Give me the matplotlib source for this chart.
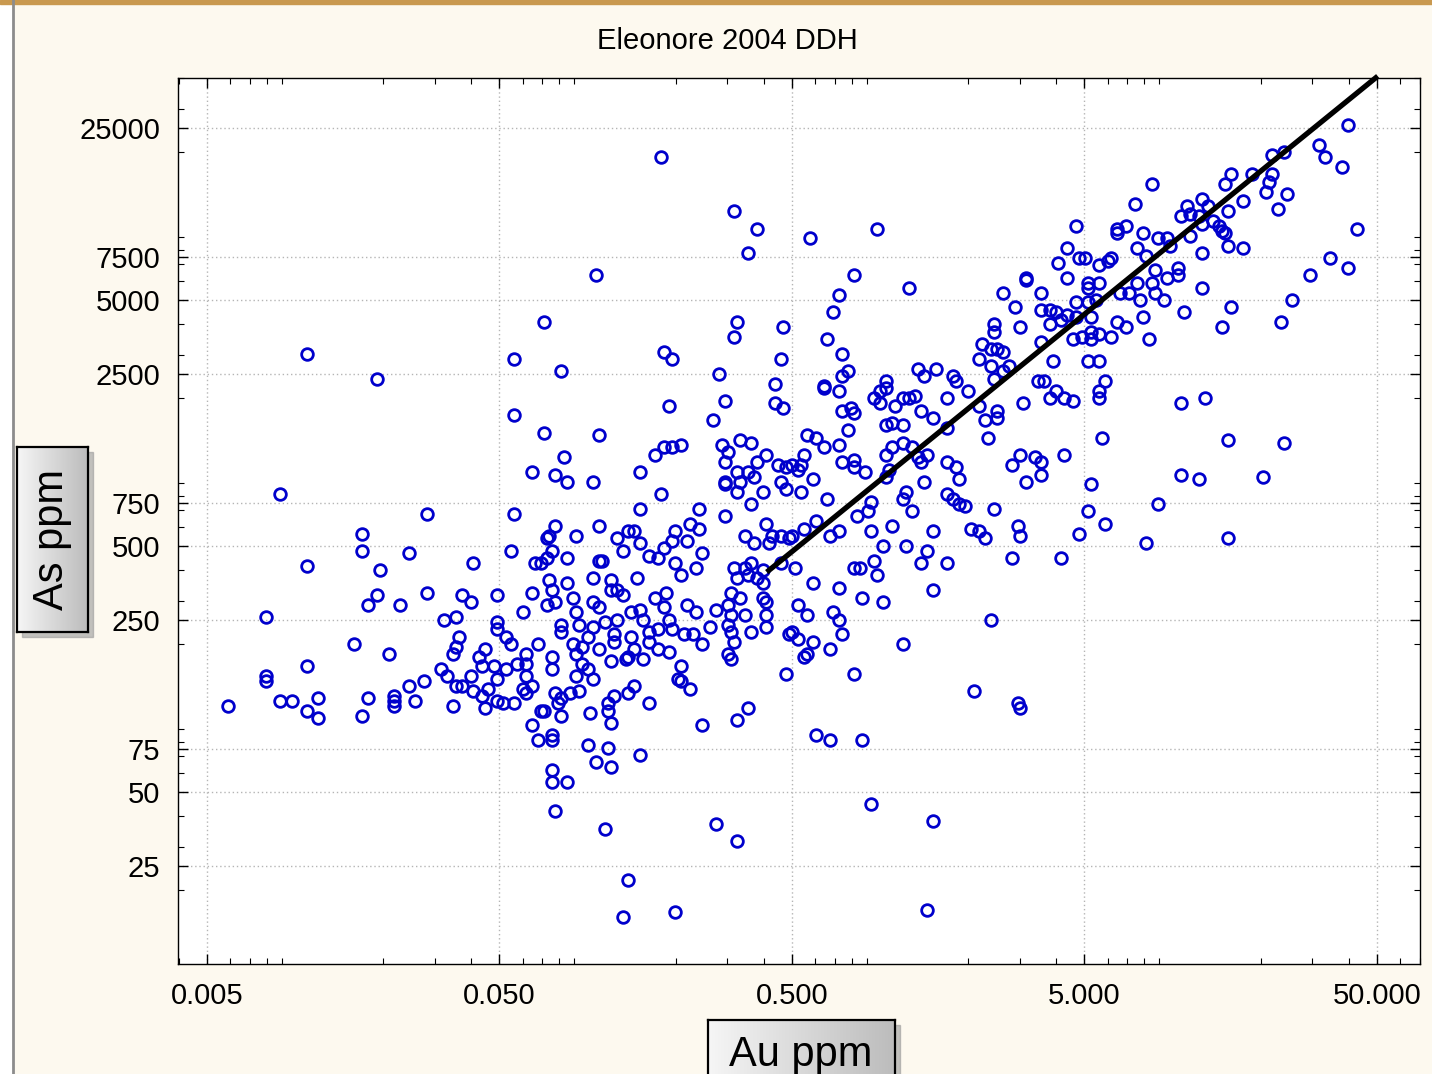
import matplotlib.pyplot as plt
import numpy as np
from matplotlib.colors import LinearSegmentedColormap
from matplotlib.lines import Line2D
from matplotlib.patches import Rectangle
from matplotlib.ticker import FixedLocator, FixedFormatter, LogLocator, NullFormatter

plt.rcParams['font.family'] = ['Liberation Sans', 'DejaVu Sans']

# drill core samples as log10(ppm)
log_au = [
    -1.96, -1.72, -2.05, -1.55, -1.77, -1.77, -1.61, -1.96, -1.71, -1.39,
    -1.72, -1.75, -1.64, -1.55, -1.43, -1.40, -1.45, -1.49, -2.10, -1.31,
    -1.31, -1.31, -1.44, -1.80, -1.68, -1.96, -2.10, -2.10, -2.23, -2.05,
    -2.01, -1.96, -1.92, -1.92, -1.77, -1.75, -1.66, -1.66, -1.66, -1.61,
    -1.59, -1.56, -1.50, -1.48, -1.46, -1.45, -1.45, -1.46, -1.43, -1.40,
    -1.39, -1.37, -1.35, -1.36, -1.34, -1.36, -1.35, -1.32, -1.31, -1.31,
    -0.75, -0.50, -0.42, -0.45, -0.97, -1.15, -0.49, -0.50, -0.33, -1.25,
    -1.09, -0.74, -0.71, -0.55, -0.34, -0.36, -0.72, -0.53, -0.36, -0.33,
    -1.25, -1.15, -0.96, -0.57, -1.08, -1.19, -1.11, -1.07, -0.98, -0.82,
    -0.77, -0.74, -0.71, -0.68, -0.75, -0.54, -0.52, -0.53, -0.48, -0.44,
    -0.49, -0.45, -0.42, -0.39, -0.35, -0.32, -0.53, -0.48, -0.53, -0.49,
    -0.43, -0.40, -0.34, -0.32, -0.44, -0.82, -0.62, -1.25, -1.11, -1.13,
    -1.14, -0.96, -1.04, -0.90, -0.86, -0.84, -0.88, -0.82, -0.70, -0.71,
    -0.66, -0.65, -0.62, -0.53, -0.46, -0.43, -0.39, -0.38, -0.37, -0.34,
    -0.31, -1.26, -1.12, -1.14, -1.16, -1.18, -1.07, -0.96, -0.95, -0.79,
    -0.76, -0.74, -0.70, -0.61, -0.63, -0.50, -0.46, -0.44, -0.40, -0.34,
    -0.49, -0.45, -0.42, -0.40, -0.98, -0.83, -0.68, -1.13, -1.07, -0.92,
    -1.19, -1.12, -1.11, -1.14, -1.05, -0.92, -0.90, -0.88, -0.98, -0.96,
    -0.77, -0.73, -0.74, -0.51, -0.48, -0.40, -0.39, -0.66, -0.63, -0.56,
    -0.52, -0.51, -0.46, -0.39, -1.22, -1.04, -0.85, -0.82, -0.81, -0.90,
    -0.94, -0.98, -1.03, -1.09, -1.09, -0.72, -0.71, -0.67, -0.64, -0.58,
    -0.52, -0.51, -0.44, -0.39, -0.31, -1.28, -1.26, -1.17, -1.05, -1.02,
    -1.00, -0.96, -0.91, -0.91, -0.85, -0.84, -0.79, -0.79, -0.76, -0.76,
    -0.72, -0.61, -0.50, -0.52, -1.21, -1.12, -1.04, -0.86, -1.28, -1.24,
    -1.21, -1.12, -1.04, -1.00, -0.98, -1.02, -0.92, -0.87, -0.81, -1.21,
    -1.19, -1.22, -1.21, -1.29, -1.25, -1.16, -1.15, -1.11, -1.09, -1.10,
    -1.06, -1.03, -1.09, -0.99, -0.93, -0.91, -0.93, -0.92, -0.86, -0.84,
    -0.79, -1.19, -1.17, -1.12, -1.12, -1.00, -0.93, -0.97, -0.92, -0.82,
    -1.12, -1.12, -1.07, -1.11, -0.94, -0.86, -0.88, -0.70, -0.68, -0.69,
    -0.68, -0.65, -0.51, -0.61, -0.49, -0.45, -0.32, -0.56, -0.49, -0.24,
    -0.01, -0.09, 0.10, -0.14, -0.16, -0.18, -0.13, -0.11, -0.13, -0.19,
    0.02, 0.13, 0.15, 0.19, 0.25, 0.26, 0.50, 0.50, 0.42, 0.46,
    0.48, 0.39, 0.39, 0.35, 0.38, 0.40, 0.42, 0.34, 0.38, 0.42,
    0.44, 0.39, 0.55, 0.55, 0.58, 0.60, 0.58, 0.62, 0.64, 0.67,
    0.67, 0.66, 0.55, 0.59, 0.54, 0.56, 0.61, 0.64, 0.64, 0.67,
    0.68, -0.19, -0.14, -0.02, 0.00, 0.02, 0.00, 0.05, 0.08, 0.10,
    0.12, -0.13, -0.10, -0.09, 0.14, 0.23, 0.30, 0.34, 0.36, 0.40,
    0.40, 0.37, 0.49, 0.58, 0.60, 0.63, 0.66, 0.02, 0.04, 0.08,
    0.18, 0.23, -0.11, -0.25, -0.22, -0.19, -0.14, 0.02, 0.04, 0.08,
    0.11, 0.13, 0.16, 0.14, -0.26, -0.27, -0.28, -0.30, -0.13, -0.09,
    -0.09, -0.05, 0.03, 0.02, 0.23, 0.26, 0.27, 0.15, -0.23, -0.27,
    -0.18, 0.09, 0.08, 0.11, 0.23, 0.25, 0.27, 0.29, 0.39, 0.45,
    0.48, 0.53, 0.55, 0.55, 0.50, 0.63, -0.03, -0.04, -0.08, -0.22,
    -0.26, -0.30, -0.17, -0.14, -0.03, 0.04, 0.18, 0.31, 0.34, 0.36,
    0.47, 0.48, 0.68, 0.01, 0.09, 0.16, 0.14, 0.23, -0.02, -0.07,
    -0.09, -0.01, -0.29, 0.45, 0.62, -0.23, -0.14, -0.06, 0.01, 0.18,
    -0.28, -0.25, -0.16, -0.14, 0.38, -0.13, -0.30, -0.28, -0.23, -0.25,
    -0.26, -0.17, 0.08, -0.09, -0.22, -0.17, -0.06, -0.03, 0.18, 0.16,
    0.32, 0.47, 0.48, 1.60, 1.50, 1.52, 1.58, 1.34, 1.38, 1.20,
    1.18, 1.27, 1.34, 1.33, 1.32, 1.39, 1.36, 1.24, 1.19, 0.93,
    0.87, 1.10, 1.12, 1.05, 1.03, 1.06, 1.09, 1.10, 1.14, 1.16,
    1.17, 1.18, 0.84, 0.81, 0.81, 0.90, 0.95, 0.98, 1.06, 0.99,
    0.88, 1.19, 1.24, 1.63, 0.70, 0.75, 0.78, 0.79, 0.91, 1.10,
    1.54, 1.60, 1.47, 1.41, 1.37, 1.20, 1.17, 1.10, 1.04, 1.02,
    1.02, 0.98, 0.94, 0.93, 0.94, 0.97, 0.88, 0.85, 0.82, 0.89,
    0.90, 0.92, 0.81, 0.84, 0.79, 0.75, 0.72, 0.72, 0.69, 0.72,
    0.71, 0.75, 0.71, 0.74, 0.71, 0.71, 0.75, 0.77, 0.75, 0.75,
    1.03, 1.11, 0.76, 1.19, 1.38, 0.72, 1.03, 1.09, 1.31, 0.71,
    0.77, 0.95, 0.91, 1.19,
]
log_as = [
    3.48, 3.38, 2.91, 2.83, 2.75, 2.68, 2.67, 2.62, 2.60, 2.63,
    2.50, 2.46, 2.46, 2.51, 2.50, 2.47, 2.41, 2.40, 2.41, 2.50,
    2.39, 2.36, 2.33, 2.30, 2.26, 2.21, 2.17, 2.15, 2.05, 2.07,
    2.07, 2.03, 2.08, 2.00, 2.01, 2.08, 2.09, 2.07, 2.05, 2.13,
    2.07, 2.15, 2.20, 2.17, 2.26, 2.29, 2.13, 2.05, 2.13, 2.17,
    2.11, 2.25, 2.28, 2.21, 2.12, 2.09, 2.04, 2.21, 2.16, 2.07,
    4.28, 4.06, 3.99, 3.89, 3.80, 3.61, 3.61, 3.55, 3.59, 3.46,
    3.41, 3.49, 3.46, 3.40, 3.46, 3.36, 3.27, 3.29, 3.28, 3.26,
    3.23, 3.16, 3.15, 3.21, 3.06, 3.00, 2.99, 2.96, 2.96, 3.00,
    3.07, 3.10, 3.10, 3.11, 2.91, 3.11, 3.08, 3.04, 3.13, 3.12,
    3.00, 3.00, 3.04, 3.07, 3.03, 3.02, 2.96, 2.96, 2.95, 2.92,
    2.98, 2.92, 2.96, 2.93, 2.87, 2.85, 2.85, 2.83, 2.78, 2.74,
    2.73, 2.78, 2.74, 2.73, 2.76, 2.76, 2.68, 2.71, 2.76, 2.72,
    2.72, 2.79, 2.77, 2.82, 2.74, 2.71, 2.79, 2.71, 2.74, 2.74,
    2.73, 2.68, 2.68, 2.65, 2.63, 2.63, 2.65, 2.64, 2.64, 2.66,
    2.65, 2.69, 2.63, 2.67, 2.61, 2.61, 2.61, 2.63, 2.60, 2.63,
    2.57, 2.58, 2.57, 2.55, 2.57, 2.57, 2.58, 2.56, 2.55, 2.56,
    2.51, 2.52, 2.47, 2.46, 2.49, 2.52, 2.52, 2.50, 2.47, 2.45,
    2.49, 2.51, 2.45, 2.51, 2.49, 2.49, 2.47, 2.46, 2.43, 2.44,
    2.46, 2.42, 2.42, 2.42, 2.43, 2.43, 2.43, 2.44, 2.40, 2.40,
    2.39, 2.37, 2.38, 2.38, 2.35, 2.40, 2.36, 2.34, 2.34, 2.37,
    2.38, 2.35, 2.35, 2.37, 2.34, 2.33, 2.30, 2.30, 2.30, 2.29,
    2.33, 2.28, 2.34, 2.31, 2.33, 2.28, 2.35, 2.31, 2.36, 2.28,
    2.27, 2.30, 2.31, 2.26, 2.26, 2.25, 2.26, 2.25, 2.20, 2.22,
    2.22, 2.20, 2.17, 2.20, 2.16, 2.22, 2.23, 2.24, 2.24, 2.17,
    2.13, 2.12, 2.10, 2.06, 2.06, 2.03, 2.03, 2.10, 2.08, 2.06,
    2.10, 2.11, 2.01, 2.02, 2.06, 2.09, 2.03, 1.98, 2.10, 2.13,
    2.06, 1.97, 1.91, 1.93, 1.91, 1.89, 1.88, 1.82, 1.80, 1.85,
    1.79, 1.74, 1.74, 1.62, 1.55, 1.34, 1.19, 1.21, 2.21, 2.16,
    2.15, 2.12, 2.24, 1.97, 1.99, 2.04, 2.18, 1.57, 1.50, 3.95,
    3.99, 3.80, 3.75, 3.72, 3.65, 3.54, 3.48, 3.41, 3.39, 3.35,
    3.37, 3.42, 3.39, 3.42, 3.39, 3.37, 3.79, 3.78, 3.73, 3.67,
    3.59, 3.60, 3.57, 3.52, 3.50, 3.50, 3.49, 3.46, 3.43, 3.41,
    3.43, 3.38, 3.66, 3.73, 3.66, 3.65, 3.60, 3.62, 3.64, 3.69,
    3.63, 3.54, 3.53, 3.45, 3.37, 3.37, 3.85, 3.91, 3.79, 4.00,
    3.87, 3.34, 3.33, 3.30, 3.33, 3.34, 3.28, 3.27, 3.30, 3.30,
    3.31, 3.25, 3.26, 3.24, 3.25, 3.30, 3.33, 3.27, 3.21, 3.25,
    3.22, 3.14, 3.28, 3.30, 3.33, 3.30, 3.29, 3.19, 3.20, 3.19,
    3.22, 3.18, 3.17, 3.15, 3.14, 3.10, 3.11, 3.07, 3.10, 3.12,
    3.10, 3.06, 3.07, 3.04, 3.07, 3.03, 3.01, 3.03, 3.04, 3.05,
    3.02, 3.00, 3.01, 2.98, 3.04, 3.02, 2.97, 2.96, 2.97, 2.92,
    2.89, 2.92, 2.89, 2.84, 2.91, 2.89, 2.87, 2.86, 2.85, 3.03,
    3.07, 3.06, 3.04, 2.99, 2.96, 3.07, 2.88, 2.84, 2.82, 2.80,
    2.77, 2.74, 2.74, 2.76, 2.76, 2.78, 2.76, 2.77, 2.76, 2.73,
    2.78, 2.74, 2.75, 2.70, 2.70, 2.68, 2.63, 2.63, 2.64, 2.61,
    2.61, 2.58, 2.61, 2.65, 2.65, 2.55, 2.53, 2.49, 2.47, 2.52,
    2.46, 2.42, 2.43, 2.40, 2.40, 2.34, 2.35, 2.32, 2.31, 2.26,
    2.25, 2.28, 2.30, 2.18, 1.93, 1.91, 1.91, 1.65, 1.58, 1.22,
    2.11, 2.06, 2.04, 4.41, 4.33, 4.28, 4.24, 4.29, 4.30, 4.21,
    4.17, 4.21, 4.21, 4.18, 4.14, 4.13, 4.07, 4.10, 4.06, 4.17,
    4.09, 4.11, 4.08, 4.08, 4.04, 4.05, 4.04, 4.01, 4.02, 4.00,
    3.98, 3.97, 4.00, 3.99, 3.97, 3.97, 3.95, 3.95, 3.96, 3.92,
    3.91, 3.92, 3.91, 3.99, 3.87, 3.84, 3.86, 3.87, 3.88, 3.89,
    3.87, 3.83, 3.80, 3.70, 3.61, 3.67, 3.59, 3.75, 3.65, 3.83,
    3.80, 3.79, 3.82, 3.77, 3.73, 3.70, 3.77, 3.73, 3.73, 3.70,
    3.63, 3.54, 3.61, 3.59, 3.55, 3.56, 3.57, 3.54, 3.55, 3.63,
    3.77, 3.77, 3.75, 3.70, 3.69, 3.45, 3.45, 3.37, 3.33, 3.30,
    3.28, 3.30, 3.14, 3.13, 3.12, 2.95, 2.99, 2.97, 2.98, 2.84,
    2.79, 2.87, 2.71, 2.73,
]

# fitted trend line end points (ppm)
trend_au = [0.41, 50.3]
trend_as = [392, 40700]

x_ticks = [0.005, 0.05, 0.5, 5, 50]
x_labels = ['0.005', '0.050', '0.500', '5.000', '50.000']
y_ticks = [25, 50, 75, 250, 500, 750, 2500, 5000, 7500, 25000]
y_labels = ['25', '50', '75', '250', '500', '750', '2500', '5000', '7500', '25000']

au = 10 ** np.array(log_au)
as_ppm = 10 ** np.array(log_as)

W, H = 1432, 1074
fig = plt.figure(figsize=(W / 100, H / 100), dpi=100, facecolor='#fdf9ef')


def fbox(x0, y0, x1, y1):
    # pixel box, top-left origin -> figure rect
    return [x0 / W, 1 - y1 / H, (x1 - x0) / W, (y1 - y0) / H]


ax = fig.add_axes(fbox(178, 78, 1420, 964))
ax.set_facecolor('white')
ax.set_xscale('log')
ax.set_yscale('log')
ax.set_xlim(10 ** -2.4, 10 ** 1.846)
ax.set_ylim(10, 40000)

ax.plot(au, as_ppm, linestyle='none', marker='o', ms=8.4, mfc='none',
        mec='#0000cc', mew=2.0, zorder=2)
ax.plot(trend_au, trend_as, color='black', lw=3.8, solid_capstyle='butt',
        clip_on=False, zorder=3)

ax.xaxis.set_major_locator(FixedLocator(x_ticks))
ax.xaxis.set_major_formatter(FixedFormatter(x_labels))
ax.yaxis.set_major_locator(FixedLocator(y_ticks))
ax.yaxis.set_major_formatter(FixedFormatter(y_labels))
for a in (ax.xaxis, ax.yaxis):
    a.set_minor_locator(LogLocator(base=10, subs=np.arange(2, 10)))
    a.set_minor_formatter(NullFormatter())

ax.tick_params(which='both', direction='in', top=True, right=True,
               labelsize=21, pad=13, color='black')
ax.tick_params(which='major', length=7, width=1)
ax.tick_params(which='minor', length=4, width=0.8)
ax.grid(which='major', linestyle=(0, (1, 2)), color='#b5b5b5', lw=1)
for s in ax.spines.values():
    s.set_color('black')
    s.set_linewidth(1)

fig.text(727 / W, 1 - 41 / H, 'Eleonore 2004 DDH', ha='center', va='center',
         fontsize=21)

# grey gradient label boxes with a soft shadow
grey = LinearSegmentedColormap.from_list('box', ['#f6f6f6', '#bcbcbc'])
grad = np.linspace(0, 1, 256)[None, :]

bx = fig.add_axes(fbox(17, 447, 88, 632))
fig.add_artist(Rectangle((22 / W, 1 - 637 / H), 71 / W, 185 / H,
                         transform=fig.transFigure, color='#9a9a9a',
                         alpha=0.6, zorder=-1))
bx.imshow(grad, cmap=grey, aspect='auto', extent=[0, 1, 0, 1])
bx.set_xticks([])
bx.set_yticks([])
for s in bx.spines.values():
    s.set_linewidth(1.6)
bx.text(0.5, 0.5, 'As ppm', rotation=90, ha='center', va='center',
        fontsize=30, transform=bx.transAxes)

by = fig.add_axes(fbox(708, 1020, 895, 1110))
fig.add_artist(Rectangle((713 / W, 1 - 1115 / H), 187 / W, 90 / H,
                         transform=fig.transFigure, color='#9a9a9a',
                         alpha=0.6, zorder=-1))
by.imshow(grad, cmap=grey, aspect='auto', extent=[0, 1, 0, 1])
by.set_xticks([])
by.set_yticks([])
for s in by.spines.values():
    s.set_linewidth(1.6)
fig.text(801 / W, 1 - 1055 / H, 'Au ppm', ha='center', va='center',
         fontsize=30, zorder=5)

# window edges
fig.add_artist(Rectangle((0, 0), 12 / W, 1, transform=fig.transFigure,
                         color='white', zorder=-2))
fig.add_artist(Line2D([12.5 / W, 12.5 / W], [0, 1], transform=fig.transFigure,
                      color='#8c8c8c', lw=2))
fig.add_artist(Rectangle((0, 1 - 4 / H), 1, 4 / H, transform=fig.transFigure,
                         color='#c9994f', zorder=-1))

fig.savefig('out.png', dpi=100, facecolor=fig.get_facecolor())
